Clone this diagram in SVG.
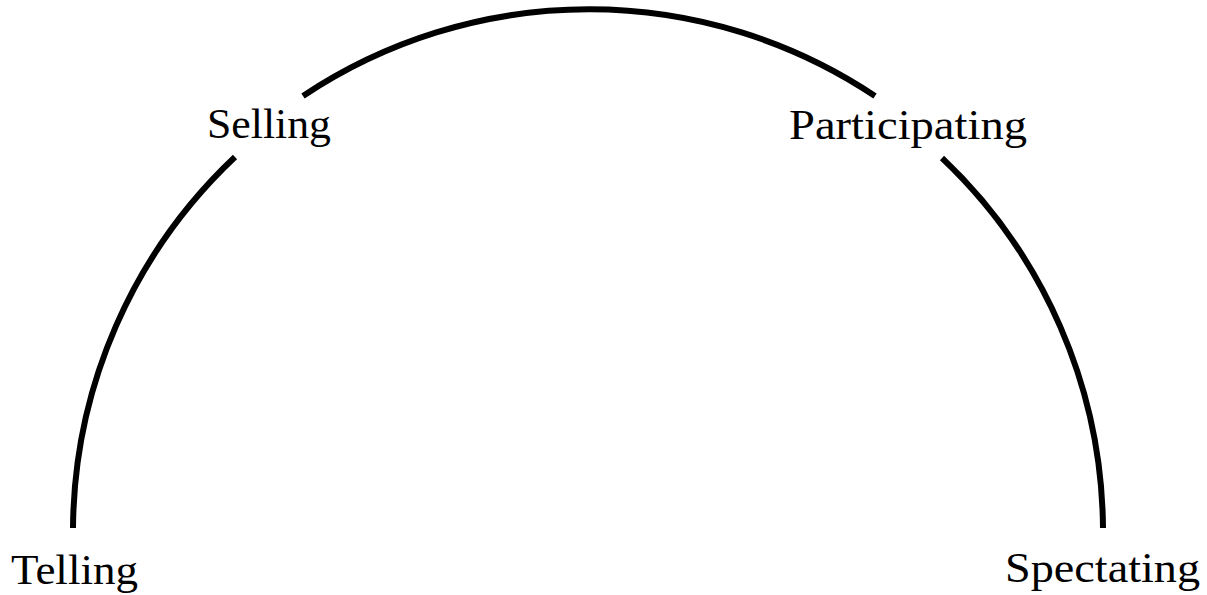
<svg xmlns="http://www.w3.org/2000/svg" width="1207" height="595" viewBox="0 0 1207 595">
<style>
.arc{fill:none;stroke:#000;stroke-width:6}
.lbl{font-family:"Liberation Serif","Times New Roman",serif;font-size:43px;fill:#000}
</style>
<rect width="1207" height="595" fill="#fff"/>
<g id="connectors">
<path class="arc" d="M73,528 A515,515 0 0 1 235,157"/>
<path class="arc" d="M303,96 A515,515 0 0 1 875,96"/>
<path class="arc" d="M942,158 A515,515 0 0 1 1103,528"/>
</g>
<g id="telling"><text class="lbl" x="11" y="584" textLength="127" lengthAdjust="spacingAndGlyphs">Telling</text></g>
<g id="selling"><text class="lbl" x="207" y="138" textLength="124" lengthAdjust="spacingAndGlyphs">Selling</text></g>
<g id="participating"><text class="lbl" x="789" y="139" textLength="238" lengthAdjust="spacingAndGlyphs">Participating</text></g>
<g id="spectating"><text class="lbl" x="1005" y="582" textLength="195" lengthAdjust="spacingAndGlyphs">Spectating</text></g>
</svg>
